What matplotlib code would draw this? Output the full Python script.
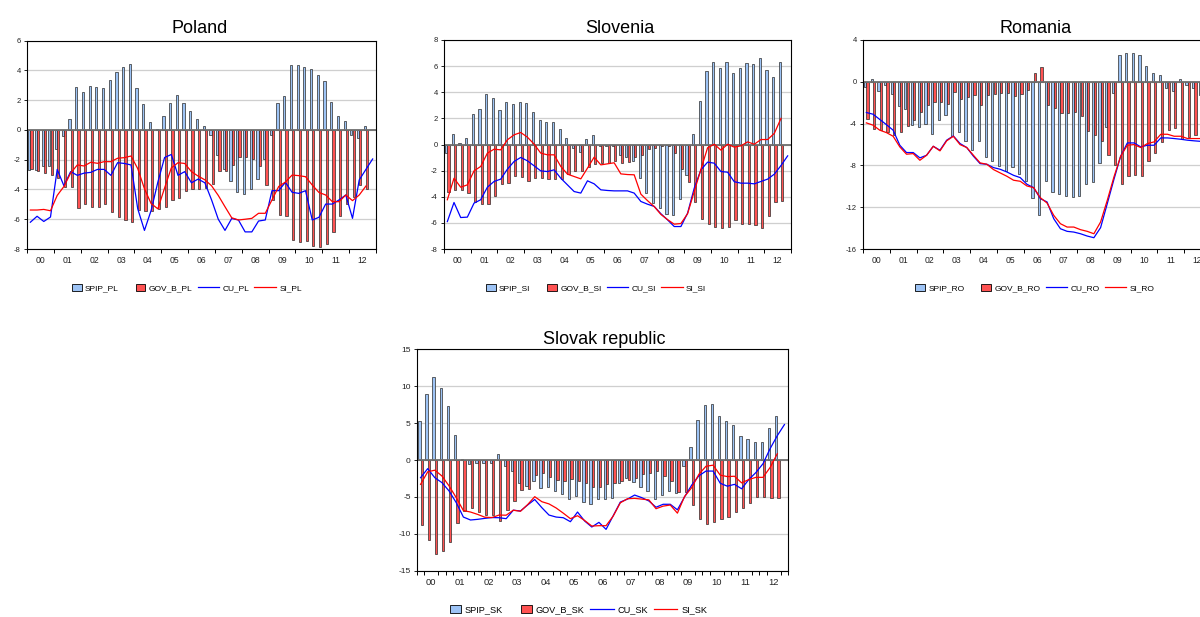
import numpy as np
import matplotlib
matplotlib.use("Agg")
import matplotlib.pyplot as plt
import matplotlib.patches as mpatches
from matplotlib.lines import Line2D
from matplotlib.legend_handler import HandlerPatch

plt.rcParams['font.family'] = ['Liberation Sans', 'DejaVu Sans']

# quarterly data, 2000Q1 onwards (bars and SI to 2012Q3, CU to 2012Q4)
years = ['00', '01', '02', '03', '04', '05', '06', '07', '08', '09', '10', '11', '12']

# ---- Poland
spip_pl = [-2.7, -2.7, -2.4, -2.4,
           -1.25, -0.4, 0.75, 2.9,
           2.58, 2.96, 2.91, 2.82,
           3.34, 3.92, 4.21, 4.45,
           2.85, 1.73, 0.54, 0.08,
           0.96, 1.82, 2.35, 1.82,
           1.3, 0.75, 0.3, -0.35,
           -1.7, -2.65, -3.4, -4.2,
           -4.27, -4.0, -3.3, -1.95,
           -0.35, 1.84, 2.25, 4.35,
           4.37, 4.26, 4.1, 3.7,
           3.3, 1.88, 0.93, 0.58,
           -0.36, -0.55, 0.25]
gov_b_pl = [-2.65, -2.75, -2.9, -3.05,
            -3.2, -3.8, -3.85, -5.27,
            -4.98, -5.16, -5.18, -4.98,
            -5.54, -5.87, -6.05, -6.17,
            -5.35, -5.45, -5.45, -5.3,
            -5.2, -4.7, -4.55, -4.1,
            -4.0, -4.0, -3.9, -3.63,
            -2.75, -2.75, -2.35, -1.85,
            -1.85, -1.95, -2.4, -3.7,
            -4.7, -5.7, -5.8, -7.4,
            -7.5, -7.45, -7.8, -7.85,
            -7.65, -6.85, -5.75, -4.95,
            -4.5, -3.72, -4.0]
cu_pl = [-6.2, -5.8, -6.15, -5.85,
         -2.65, -3.75, -2.8, -3.05,
         -2.9, -2.85, -2.65, -2.65,
         -3.05, -2.2, -2.25, -2.35,
         -5.3, -6.75, -5.4, -3.5,
         -1.85, -1.65, -3.05, -2.8,
         -3.55, -3.3, -3.55, -4.7,
         -6.0, -6.75, -5.95, -6.05,
         -6.85, -6.85, -6.12, -6.05,
         -4.08, -4.08, -3.52, -4.19,
         -4.26, -4.08, -6.05, -5.87,
         -4.98, -4.98, -4.7, -4.37,
         -5.94, -3.36, -2.65, -1.95]
si_pl = [-5.38, -5.38, -5.34, -5.43,
         -4.4, -3.8, -2.9, -2.35,
         -2.42, -2.17, -2.24, -2.13,
         -2.13, -1.9, -1.86, -1.75,
         -2.6, -3.95, -4.95, -5.3,
         -3.9, -2.55, -2.2, -2.25,
         -2.8, -3.1, -3.35, -3.75,
         -4.4, -5.16, -5.9, -6.05,
         -6.0, -5.94, -5.6, -5.6,
         -4.7, -3.8, -3.5, -3.03,
         -3.07, -3.14, -3.7, -4.2,
         -4.37, -4.82, -4.82, -4.37,
         -4.75, -4.37, -3.77]

# ---- Slovenia
spip_si = [-0.66, 0.82, 0.15, 0.48,
           2.35, 2.73, 3.88, 3.55,
           2.65, 3.24, 3.09, 3.29,
           3.19, 2.47, 1.91, 1.76,
           1.76, 1.2, 0.48, -0.3,
           -0.6, 0.4, 0.7, -0.15,
           -0.1, -0.15, -0.8, -0.95,
           -1.3, -2.53, -3.72, -4.49,
           -4.87, -5.3, -5.43, -4.16,
           -2.32, 0.79, 3.34, 5.64,
           6.3, 5.89, 6.3, 5.51,
           5.89, 6.22, 6.15, 6.66,
           5.71, 5.13, 6.3]
gov_b_si = [-3.6, -3.48, -3.52, -3.68,
            -4.41, -4.52, -4.58, -3.92,
            -3.04, -2.96, -2.4, -2.45,
            -2.78, -2.53, -2.53, -2.65,
            -2.62, -2.65, -2.25, -2.05,
            -2.05, -1.75, -1.5, -1.45,
            -1.4, -1.25, -1.45, -1.35,
            -0.97, -0.84, -0.36, -0.25,
            -0.15, -0.15, -0.66, -1.86,
            -2.85, -4.38, -5.7, -6.1,
            -6.35, -6.4, -6.3, -5.8,
            -6.1, -6.1, -6.2, -6.4,
            -5.45, -4.4, -4.3]
cu_si = [-5.9, -4.44, -5.59, -5.56,
         -4.49, -4.23, -3.27, -2.83,
         -2.65, -1.89, -1.3, -0.99,
         -1.25, -1.63, -2.02, -2.07,
         -1.94, -2.58, -3.09, -3.6,
         -3.72, -2.78, -3.01, -3.47,
         -3.52, -3.55, -3.55, -3.55,
         -3.72, -4.36, -4.57, -4.74,
         -5.3, -5.77, -6.28, -6.28,
         -5.26, -3.34, -1.94, -1.35,
         -1.43, -2.07, -2.12, -2.85,
         -2.96, -2.96, -3.01, -2.83,
         -2.65, -2.27, -1.61, -0.87]
si_si = [-4.23, -2.58, -3.27, -3.09,
         -2.02, -1.68, -0.66, -0.36,
         -0.41, 0.36, 0.74, 0.92,
         0.56, 0.03, -0.66, -0.79,
         -0.79, -1.68, -2.27, -2.45,
         -2.63, -1.81, -0.97, -1.56,
         -1.48, -1.4, -2.25, -2.3,
         -2.32, -3.8, -4.3, -4.75,
         -5.35, -5.75, -6.1, -6.05,
         -5.3, -3.6, -1.9, -0.25,
         0.02, -0.43, 0.02, -0.2,
         -0.1, 0.2, 0.02, 0.38,
         0.38, 0.85, 2.0]

# ---- Romania
spip_ro = [-0.45, 0.25, -0.9, -0.35,
           -1.2, -2.3, -2.65, -4.1,
           -4.35, -4.05, -5.0, -3.7,
           -3.2, -5.2, -4.85, -5.7,
           -6.55, -5.65, -7.15, -7.55,
           -8.1, -8.5, -8.2, -8.85,
           -9.45, -11.1, -12.7, -9.45,
           -10.5, -10.7, -10.95, -11.05,
           -10.9, -9.8, -9.55, -7.8,
           -4.3, -1.05, 2.55, 2.8,
           2.75, 2.6, 1.5, 0.85,
           0.65, -0.6, -0.85, 0.25,
           -0.3, -0.55, -1.3]
gov_b_ro = [-3.55, -4.5, -4.65, -4.8,
            -5.05, -4.8, -4.2, -3.65,
            -2.9, -2.25, -1.9, -1.95,
            -2.1, -0.95, -1.6, -1.5,
            -1.3, -2.2, -1.3, -1.15,
            -1.05, -1.05, -1.4, -1.2,
            -0.75, 0.85, 1.45, -2.25,
            -2.5, -2.95, -2.95, -2.9,
            -3.3, -4.7, -5.1, -5.7,
            -7.0, -8.0, -9.75, -9.0,
            -8.95, -9.0, -7.55, -6.85,
            -5.8, -4.6, -4.4, -5.45,
            -5.3, -5.05, -5.5]
cu_ro = [-2.94, -3.1, -3.6, -4.1,
         -4.63, -6.07, -6.77, -6.77,
         -7.28, -7.03, -6.17, -6.55,
         -5.59, -5.18, -5.91, -6.29,
         -7.12, -7.83, -7.89, -8.21,
         -8.37, -8.63, -8.95, -9.17,
         -9.81, -10.13, -11.18, -11.5,
         -13.1, -14.06, -14.31, -14.38,
         -14.54, -14.76, -14.92, -13.96,
         -11.66, -9.33, -7.12, -5.85,
         -5.85, -6.23, -6.07, -6.07,
         -5.37, -5.37, -5.43, -5.5,
         -5.59, -5.65, -5.7, -5.8]
si_ro = [-3.93, -4.15, -4.63, -4.86,
         -5.21, -6.23, -6.93, -6.87,
         -7.51, -7.03, -6.17, -6.61,
         -5.65, -5.21, -6.01, -6.29,
         -7.03, -7.76, -7.89, -8.4,
         -8.72, -9.04, -9.42, -9.52,
         -9.97, -10.13, -11.09, -11.6,
         -12.78, -13.58, -13.9, -13.9,
         -14.15, -14.31, -14.54, -13.42,
         -11.34, -9.1, -7.12, -6.07,
         -6.01, -6.29, -5.91, -5.75,
         -5.02, -5.02, -5.21, -5.21,
         -5.43, -5.43, -5.43]

# ---- Slovak republic
spip_sk = [5.35, 9.0, 11.25, 9.8,
           7.3, 3.35, 0.1, -0.6,
           -0.35, -0.45, -0.4, 0.75,
           -0.85, -1.5, -3.1, -3.55,
           -2.9, -3.85, -3.65, -4.2,
           -4.55, -5.25, -4.9, -5.65,
           -5.95, -5.3, -5.33, -5.1,
           -3.1, -2.4, -3.0, -3.65,
           -4.15, -5.25, -4.8, -4.15,
           -4.45, -0.8, 1.8, 5.45,
           7.5, 7.55, 6.0, 5.25,
           4.75, 3.3, 2.9, 2.5,
           2.47, 4.35, 5.95]
gov_b_sk = [-8.8, -10.9, -12.7, -12.3,
            -11.1, -8.6, -6.95, -6.55,
            -7.05, -7.5, -7.48, -8.2,
            -6.82, -5.58, -4.1, -3.9,
            -2.1, -1.72, -2.3, -2.66,
            -2.8, -2.6, -2.85, -3.18,
            -3.6, -3.7, -3.2, -3.1,
            -2.8, -2.75, -2.4, -1.85,
            -1.8, -1.5, -2.15, -2.9,
            -4.3, -4.4, -6.1, -8.04,
            -8.63, -8.4, -7.95, -7.73,
            -7.05, -6.55, -5.78, -5.0,
            -5.0, -5.1, -5.2]
cu_sk = [-2.4, -1.17, -2.4, -3.07,
         -4.2, -5.78, -7.73, -8.13,
         -8.04, -7.91, -7.8, -7.82,
         -7.95, -6.8, -6.91, -6.1,
         -5.35, -6.46, -7.46, -7.73,
         -7.82, -8.36, -7.05, -8.27,
         -9.08, -8.45, -9.4, -7.55,
         -5.7, -5.3, -4.75, -5.1,
         -5.55, -6.4, -6.0, -6.0,
         -6.75, -5.0, -3.4, -2.15,
         -1.5, -1.5, -3.15, -3.55,
         -3.3, -3.9, -2.65, -1.7,
         -0.5, 1.55, 3.3, 4.8]
si_sk = [-3.3, -1.6, -1.38, -2.17,
         -3.52, -5.1, -6.85, -7.05,
         -7.37, -7.75, -7.8, -7.46,
         -7.48, -6.8, -6.95, -6.05,
         -4.97, -5.65, -5.95, -6.5,
         -7.2, -7.95, -7.55, -8.2,
         -8.95, -8.9, -8.9, -7.6,
         -5.8, -5.25, -5.2, -5.3,
         -5.4, -6.6, -6.25, -6.1,
         -7.2, -4.95, -3.75, -1.95,
         -0.85, -0.7, -2.05, -2.25,
         -2.2, -3.1, -2.65, -2.35,
         -2.35, -1.0, 0.85]

BLUE_FILL = '#9dc3f5'
RED_FILL = '#ff5252'
W, H = 1200, 617


def px_axes(left, top, right, bottom):
    return [left / W, 1 - bottom / H, (right - left) / W, (bottom - top) / H]


class NarrowBox(HandlerPatch):
    def create_artists(self, legend, orig_handle, xdescent, ydescent,
                       width, height, fontsize, trans):
        bw = 0.45 * width
        p = mpatches.Rectangle((width - bw - xdescent, -ydescent), bw, height,
                               facecolor=orig_handle.get_facecolor(),
                               edgecolor='black', lw=0.6, transform=trans)
        return [p]


def draw_panel(ax, spip, gov, cu, si, code, ylim, yticks, quarter_ticks=False,
               fs=5.5):
    xb = np.arange(len(spip))
    ax.bar(xb - 0.17, spip, width=0.33, color=BLUE_FILL, edgecolor='#2a2a2a',
           lw=0.5, zorder=2)
    ax.bar(xb + 0.17, gov, width=0.33, color=RED_FILL, edgecolor='#2a2a2a',
           lw=0.5, zorder=2)
    ax.axhline(0, color='#6e6e6e', lw=1.3, zorder=2.5)
    ax.plot(np.arange(len(cu)), cu, color='#0000ff', lw=0.9, zorder=3)
    ax.plot(np.arange(len(si)), si, color='#ff0000', lw=0.9, zorder=3)

    ax.set_xlim(-0.5, 51.5)
    ax.set_ylim(*ylim)
    ax.set_yticks(yticks)
    ax.set_yticklabels([str(t) for t in yticks])
    ax.yaxis.grid(True, color='#cfcfcf', lw=0.9)
    ax.set_axisbelow(True)
    ax.tick_params(axis='y', direction='out', length=2.5, width=0.7,
                   labelsize=fs, pad=2, colors='#222222')

    # year labels sit between the year boundary ticks
    ax.set_xticks(np.arange(len(years)) * 4 + 1.5)
    ax.set_xticklabels(years)
    ax.tick_params(axis='x', which='major', length=0, pad=5,
                   labelsize=fs + 0.7, colors='#222222')
    if quarter_ticks:
        ax.set_xticks(np.arange(-0.5, 52, 1.0), minor=True)
    else:
        ax.set_xticks(np.arange(-0.5, 52, 4.0), minor=True)
    ax.tick_params(axis='x', which='minor', direction='out', length=3,
                   width=0.7)
    for s in ax.spines.values():
        s.set_linewidth(0.8)

    handles = [mpatches.Patch(facecolor=BLUE_FILL, edgecolor='black'),
               mpatches.Patch(facecolor=RED_FILL, edgecolor='black'),
               Line2D([], [], color='#0000ff', lw=0.9),
               Line2D([], [], color='#ff0000', lw=0.9)]
    labels = ['SPIP_' + code, 'GOV_B_' + code, 'CU_' + code, 'SI_' + code]
    return handles, labels


fig = plt.figure(figsize=(12, 6.17), dpi=100)

panels = [
    ('Poland', spip_pl, gov_b_pl, cu_pl, si_pl, 'PL', (-8, 6), [6, 4, 2, 0, -2, -4, -6, -8],
     (27, 40.7, 376, 249), (200, 33), (181, 288), False, 5.5, 6.0),
    ('Slovenia', spip_si, gov_b_si, cu_si, si_si, 'SI', (-8, 8), [8, 6, 4, 2, 0, -2, -4, -6, -8],
     (444, 40, 791, 249), (620, 33), (590, 288), False, 5.5, 6.0),
    ('Romania', spip_ro, gov_b_ro, cu_ro, si_ro, 'RO', (-16, 4), [4, 0, -4, -8, -12, -16],
     (863, 40, 1211, 249), (1036, 33), (1029, 288), False, 5.5, 6.0),
    ('Slovak republic', spip_sk, gov_b_sk, cu_sk, si_sk, 'SK', (-15, 15), [15, 10, 5, 0, -5, -10, -15],
     (417, 349.3, 788, 570.7), (604, 344), (572, 609.5), True, 6.0, 6.6),
]

for (title, spip, gov, cu, si, code, ylim, yticks, box, tpos, lpos,
     qt, fs, lfs) in panels:
    ax = fig.add_axes(px_axes(*box))
    handles, labels = draw_panel(ax, spip, gov, cu, si, code, ylim, yticks,
                                 quarter_ticks=qt, fs=fs)
    fig.text(tpos[0] / W, 1 - tpos[1] / H, title, ha='center', va='baseline',
             fontsize=13)
    fig.legend(handles, labels, loc='center', ncol=4, frameon=False,
               fontsize=lfs, bbox_to_anchor=(lpos[0] / W, 1 - lpos[1] / H),
               handlelength=2.6, handletextpad=0.4, columnspacing=0.6,
               handleheight=0.9, borderpad=0.2,
               handler_map={mpatches.Patch: NarrowBox()})

fig.savefig('out.png', dpi=100)
